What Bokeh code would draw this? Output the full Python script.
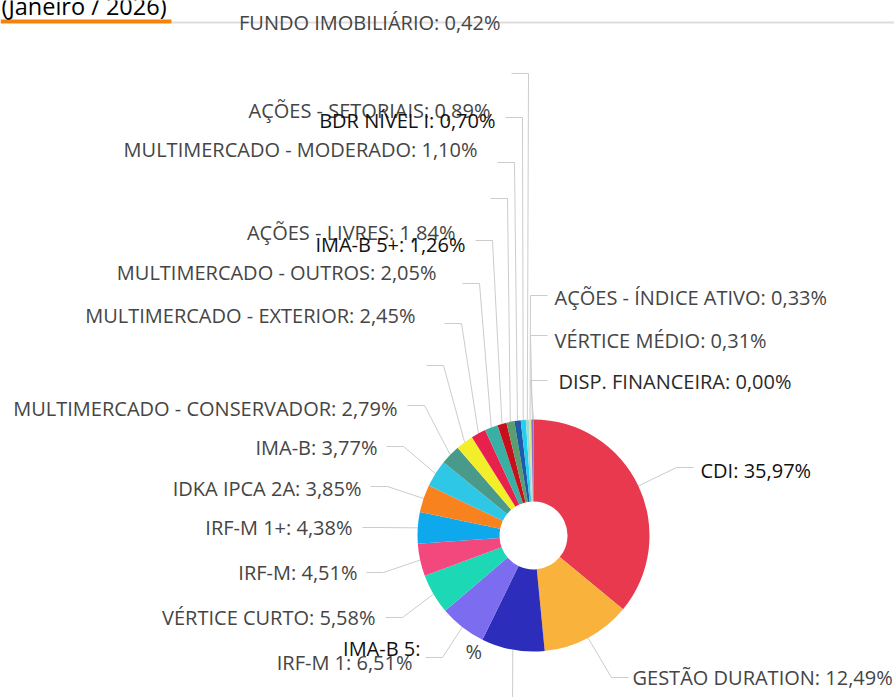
import math
from bokeh.plotting import figure
from bokeh.models import Range1d, ColumnDataSource
from bokeh.core.properties import value
from bokeh.embed import file_html
from bokeh.resources import INLINE

# ---------------- data ----------------
categories = [
    "CDI", "GESTÃO DURATION", "IMA-B 5", "IRF-M 1", "VÉRTICE CURTO", "IRF-M",
    "IRF-M 1+", "IDKA IPCA 2A", "IMA-B", "MULTIMERCADO - CONSERVADOR",
    "MULTIMERCADO - EXTERIOR", "MULTIMERCADO - OUTROS", "AÇÕES - LIVRES",
    "IMA-B 5+", "MULTIMERCADO - MODERADO", "AÇÕES - SETORIAIS", "BDR NÍVEL I",
    "FUNDO IMOBILIÁRIO", "AÇÕES - ÍNDICE ATIVO", "VÉRTICE MÉDIO", "DISP. FINANCEIRA",
]
values = [
    35.97, 12.49, 8.80, 6.51, 5.58, 4.51,
    4.38, 3.85, 3.77, 2.79,
    2.45, 2.05, 1.84,
    1.26, 1.10, 0.89, 0.70,
    0.42, 0.33, 0.31, 0.00,
]
slice_colors = [
    "#e8394e", "#f9b23c", "#2d2dbb", "#7c6cf0", "#1dd8b4", "#f3487e",
    "#0ea8ec", "#f7821e", "#2ec8e6", "#4a9a8c",
    "#f2ee2a", "#e8204e", "#3ab0a4",
    "#c8101c", "#5a9e70", "#1f5aa8", "#22d0ee",
    "#9fd9d6", "#d4e88a", "#8a6fd0", "#cccccc",
]
title_text = "(Janeiro / 2026)"

# ---------------- layout (screen pixels, y downward) ----------------
W, H = 894, 697
CX, CY = 533, 535
R_OUT, R_IN = 116, 34
FS = "20px"
GRAY, DARK = "#454545", "#111111"

# label: x, y(center), align, colour, mode ("full" / "name")
label_layout = {
    "CDI": (700, 470, "left", DARK, "full"),
    "GESTÃO DURATION": (632, 677, "left", GRAY, "full"),
    "IMA-B 5": (420, 648, "right", DARK, "name"),
    "IRF-M 1": (412, 662, "right", GRAY, "full"),
    "VÉRTICE CURTO": (375, 617, "right", GRAY, "full"),
    "IRF-M": (357, 572, "right", GRAY, "full"),
    "IRF-M 1+": (352, 527, "right", GRAY, "full"),
    "IDKA IPCA 2A": (361, 488, "right", GRAY, "full"),
    "IMA-B": (377, 447, "right", GRAY, "full"),
    "MULTIMERCADO - CONSERVADOR": (397, 408, "right", GRAY, "full"),
    "MULTIMERCADO - EXTERIOR": (415, 315, "right", GRAY, "full"),
    "MULTIMERCADO - OUTROS": (436, 272, "right", GRAY, "full"),
    "AÇÕES - LIVRES": (455, 232, "right", GRAY, "full"),
    "IMA-B 5+": (465, 244, "right", DARK, "full"),
    "MULTIMERCADO - MODERADO": (477, 149, "right", GRAY, "full"),
    "AÇÕES - SETORIAIS": (490, 110, "right", GRAY, "full"),
    "BDR NÍVEL I": (495, 120, "right", DARK, "full"),
    "FUNDO IMOBILIÁRIO": (500, 22, "right", GRAY, "full"),
    "AÇÕES - ÍNDICE ATIVO": (554, 297, "left", GRAY, "full"),
    "VÉRTICE MÉDIO": (554, 340, "left", GRAY, "full"),
    "DISP. FINANCEIRA": (558, 381, "left", "#2a2a2a", "full"),
}
# leader-line anchor: x, y, horizontal direction (+1 to the right, -1 to the left)
line_anchor = {
    "CDI": (693, 467, -1),
    "GESTÃO DURATION": (628, 677, -1),
    "IMA-B 5": (495, 720, 1),
    "IRF-M 1": (425, 657, 1),
    "VÉRTICE CURTO": (385, 617, 1),
    "IRF-M": (366, 572, 1),
    "IRF-M 1+": (362, 527, 1),
    "IDKA IPCA 2A": (370, 486, 1),
    "IMA-B": (386, 446, 1),
    "MULTIMERCADO - CONSERVADOR": (407, 405, 1),
    "MULTIMERCADO - EXTERIOR": (426, 365, 1),
    "MULTIMERCADO - OUTROS": (444, 323, 1),
    "AÇÕES - LIVRES": (462, 283, 1),
    "IMA-B 5+": (475, 240, 1),
    "MULTIMERCADO - MODERADO": (490, 198, 1),
    "AÇÕES - SETORIAIS": (497, 162, 1),
    "BDR NÍVEL I": (505, 117, 1),
    "FUNDO IMOBILIÁRIO": (511, 73, 1),
    "AÇÕES - ÍNDICE ATIVO": (547, 295, -1),
    "VÉRTICE MÉDIO": (547, 335, -1),
    "DISP. FINANCEIRA": (547, 380, -1),
}
fragment = ("%", 465, 651, GRAY)  # stray fragment of a hidden label
SEG = 17


def fy(y):
    return H - y


p = figure(width=W, height=H, x_range=Range1d(0, W), y_range=Range1d(0, H),
           output_backend="svg", toolbar_location=None, min_border=0,
           x_axis_type=None, y_axis_type=None)
p.grid.visible = False
p.outline_line_color = None
p.background_fill_color = "white"
p.border_fill_color = "white"

# header lines
p.line([171, W], [fy(22), fy(22)], line_color="#dddddd", line_width=2)
p.line([0, 171], [fy(21), fy(21)], line_color="#f5820a", line_width=4)
p.text([1], [fy(5)], text=[title_text], text_font=value("Open Sans"),
       text_font_size="23.5px", text_color="#000000", text_baseline="alphabetic")

total = sum(values)
starts, ends, mids = [], [], []
cum = 0.0
for v in values:
    a0 = math.pi / 2 - 2 * math.pi * cum / total
    cum += v
    a1 = math.pi / 2 - 2 * math.pi * cum / total
    starts.append(a1)
    ends.append(a0)
    mids.append((a0 + a1) / 2)

# leader lines
xs, ys = [], []
for name, m in zip(categories, mids):
    ax, ay, d = line_anchor[name]
    ex = CX + R_OUT * math.cos(m)
    ey = fy(CY) + R_OUT * math.sin(m)
    xs.append([ax, ax + d * SEG, ex])
    ys.append([fy(ay), fy(ay), ey])
p.multi_line(xs, ys, line_color="#cccccc", line_width=1)

keep = [i for i, v in enumerate(values) if v > 0]
src = ColumnDataSource(dict(x=[CX] * len(keep), y=[fy(CY)] * len(keep),
                            s=[starts[i] for i in keep], e=[ends[i] for i in keep],
                            c=[slice_colors[i] for i in keep]))
p.annular_wedge(x="x", y="y", inner_radius=R_IN, outer_radius=R_OUT,
                start_angle="s", end_angle="e", fill_color="c",
                line_color=None, source=src)

# labels
for name, v in zip(categories, values):
    lx, ly, al, col, mode = label_layout[name]
    val = f"{v:.2f}".replace(".", ",") + "%"
    txt = f"{name}: {val}" if mode == "full" else f"{name}:"
    p.text([lx], [fy(ly)], text=[txt], text_font=value("Open Sans"),
           text_font_size=FS, text_color=col, text_align=al,
           text_baseline="middle")
ft, fx, fyy, fc = fragment
p.text([fx], [fy(fyy)], text=[ft], text_font=value("Open Sans"),
       text_font_size=FS, text_color=fc, text_align="left", text_baseline="middle")

open("out.html", "w").write(file_html(p, INLINE))
